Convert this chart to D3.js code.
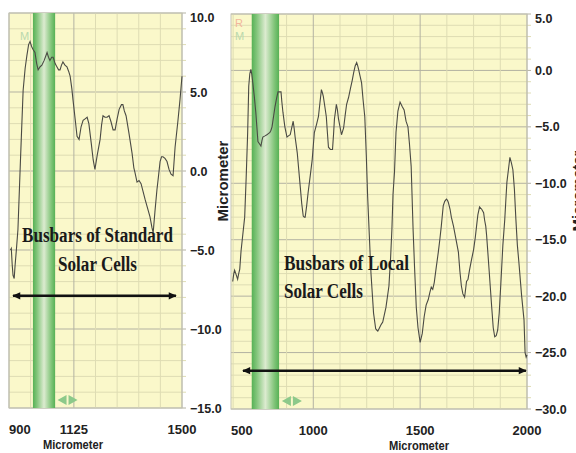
<!DOCTYPE html>
<html lang="en">
<head>
<meta charset="UTF-8">
<script src="https://d3js.org/d3.v7.min.js"></script>
<title>Busbar profiles</title>
<style>
    body { margin: 0; background: #fff; }
    svg { display: block; }
</style>
</head>
<body>
<svg id="chart" width="576" height="453"></svg>

<script>
    // standard cell profile (x in micrometer, height in micrometer)
    const stdX = [905, 908, 911, 914, 918, 921, 926, 931, 940, 949,
        956, 962, 968, 973, 978, 983, 990, 996, 1001, 1008,
        1014, 1022, 1032, 1037, 1042, 1048, 1053, 1060, 1066, 1072,
        1077, 1082, 1087, 1094, 1101, 1107, 1112, 1118, 1122, 1130,
        1136, 1143, 1150, 1157, 1164, 1171, 1177, 1185, 1192, 1198,
        1206, 1216, 1221, 1226, 1233, 1240, 1247, 1254, 1261, 1268,
        1275, 1282, 1290, 1295, 1300, 1306, 1316, 1327, 1333, 1337,
        1344, 1351, 1358, 1372, 1389, 1396, 1400, 1406, 1413, 1418,
        1424, 1429, 1434, 1441, 1448, 1455, 1462, 1469, 1476, 1486,
        1493, 1500];
    const stdY = [-5.0, -4.9, -5.9, -6.6, -6.8, -6.0, -4.9, -3.7, 0.8, 5.1,
        6.5, 7.3, 8.0, 8.2, 7.9, 7.7, 7.5, 6.8, 6.4, 6.6,
        6.7, 7.0, 7.5, 7.2, 7.0, 7.2, 7.2, 6.8, 6.6, 6.4,
        6.4, 6.7, 6.9, 6.7, 6.6, 6.3, 6.0, 5.2, 4.5, 3.2,
        2.2, 2.0, 2.8, 3.2, 3.3, 3.4, 3.0, 1.8, 0.7, 0.1,
        1.0, 2.0, 2.9, 3.5, 3.4, 3.4, 3.5, 3.1, 2.6, 2.6,
        3.3, 3.9, 4.2, 4.2, 3.8, 3.5, 2.4, 1.1, 0.2, -0.1,
        -0.7, -0.6, -0.8, -1.8, -2.9, -3.6, -3.9, -2.6, -1.2, -0.4,
        0.6, 0.9, 0.9, 0.8, 0.6, 0.1, -0.2, -0.3, 1.5, 3.2,
        4.5, 6.0];

    // local cell profile
    const localX = [623, 628, 632, 639, 646, 651, 656, 662, 679, 686,
        693, 698, 703, 708, 712, 717, 724, 731, 736, 741,
        748, 755, 760, 764, 774, 783, 790, 797, 802, 807,
        814, 821, 828, 835, 842, 849, 853, 858, 867, 877,
        884, 892, 899, 906, 911, 915, 920, 925, 932, 939,
        946, 953, 958, 962, 969, 976, 986, 995, 1000, 1005,
        1015, 1024, 1031, 1038, 1043, 1047, 1054, 1061, 1066, 1071,
        1080, 1085, 1090, 1095, 1099, 1104, 1108, 1113, 1118, 1125,
        1132, 1137, 1142, 1149, 1156, 1165, 1175, 1182, 1189, 1196,
        1203, 1208, 1212, 1219, 1226, 1233, 1241, 1248, 1254, 1259,
        1270, 1282, 1292, 1297, 1302, 1310, 1318, 1325, 1340, 1354,
        1362, 1368, 1373, 1380, 1387, 1396, 1406, 1416, 1425, 1434,
        1443, 1450, 1458, 1467, 1474, 1482, 1490, 1500, 1510, 1519,
        1528, 1538, 1545, 1552, 1559, 1566, 1575, 1585, 1592, 1599,
        1608, 1615, 1623, 1628, 1632, 1640, 1646, 1656, 1668, 1679,
        1686, 1693, 1700, 1708, 1712, 1717, 1724, 1731, 1740, 1750,
        1758, 1764, 1770, 1778, 1788, 1797, 1802, 1807, 1811, 1822,
        1835, 1842, 1849, 1856, 1863, 1870, 1877, 1887, 1896, 1901,
        1906, 1913, 1920, 1927, 1934, 1941, 1948, 1955, 1962, 1975,
        1986, 1991, 1996, 2000];
    const localY = [-18.7, -18.0, -17.7, -18.1, -18.5, -18.0, -17.6, -16.0, -13.0, -9.5,
        -5.5, -1.4, -0.3, 0.1, -0.3, -1.1, -2.3, -3.7, -5.0, -6.3,
        -6.5, -6.7, -6.2, -5.9, -5.8, -5.7, -5.6, -5.5, -5.3, -5.0,
        -4.1, -3.2, -2.5, -1.9, -1.9, -1.9, -2.8, -3.7, -5.0, -5.9,
        -5.8, -5.7, -5.1, -4.5, -5.2, -5.9, -6.6, -7.3, -8.8, -10.3,
        -11.8, -12.9, -13.0, -13.0, -12.0, -10.8, -9.3, -7.9, -6.7, -5.5,
        -4.8, -4.1, -2.9, -1.7, -2.0, -2.3, -3.2, -4.1, -5.5, -6.8,
        -7.0, -7.0, -7.0, -5.6, -4.3, -3.6, -3.0, -3.5, -4.3, -5.0,
        -5.7, -5.4, -5.1, -4.0, -3.0, -2.4, -1.5, -0.9, -0.2, 0.4,
        0.7, 0.4, 0.1, -0.5, -1.1, -2.6, -4.1, -7.5, -11.0, -13.2,
        -18.0, -21.5, -22.9, -23.0, -23.1, -22.8, -22.5, -22.3, -21.0, -19.1,
        -16.5, -14.0, -11.0, -9.0, -5.5, -3.6, -2.8, -3.2, -3.5, -4.5,
        -5.0, -6.5, -8.5, -14.1, -17.5, -21.0, -22.8, -24.1, -23.3, -21.8,
        -20.8, -20.3, -19.7, -19.2, -19.4, -18.8, -17.5, -16.1, -15.0, -13.8,
        -12.0, -11.6, -11.4, -11.5, -11.7, -12.3, -13.0, -13.8, -15.0, -16.1,
        -17.8, -19.1, -19.8, -20.1, -19.5, -18.7, -18.5, -17.7, -16.8, -15.9,
        -14.8, -13.8, -12.8, -12.1, -12.3, -12.6, -13.3, -13.8, -14.6, -17.5,
        -21.0, -22.8, -23.6, -23.5, -23.0, -21.5, -19.1, -15.5, -13.2, -11.5,
        -9.9, -8.8, -7.7, -8.2, -8.8, -10.5, -13.2, -15.5, -17.0, -20.0,
        -22.1, -25.0, -25.4, -25.2];

    // tick labels
    const stdXTicks = [900, 1125, 1500];
    const stdYTicks = [10, 5, 0, -5, -10, -15];
    const localXTicks = [500, 1000, 1500, 2000];
    const localYTicks = [5, 0, -5, -10, -15, -20, -25, -30];

    // cursor bands (micrometer)
    const stdBand = [983, 1060];
    const localBand = [712, 840];

    const svg = d3.select("#chart");
    const defs = svg.append("defs");

    const grad = defs.append("linearGradient").attr("id", "band-grad");
    [["0%", "#56b155"], ["18%", "#82c57a"], ["50%", "#dcebd0"], ["82%", "#82c57a"], ["100%", "#56b155"]]
        .forEach(([o, c]) => grad.append("stop").attr("offset", o).attr("stop-color", c));

    defs.append("marker")
        .attr("id", "head")
        .attr("viewBox", "0 -5 10 10")
        .attr("refX", 9)
        .attr("markerWidth", 9)
        .attr("markerHeight", 8)
        .attr("markerUnits", "userSpaceOnUse")
        .attr("orient", "auto-start-reverse")
        .append("path")
        .attr("d", "M0,-4.5L10,0L0,4.5Z")
        .attr("fill", "#111");

    renderPanel({
        left: 9, right: 182, top: 13, bottom: 408,
        xDomain: [900, 1500], yDomain: [-15, 10],
        xs: stdX, ys: stdY,
        xTicks: stdXTicks, yTicks: stdYTicks, xMinorStep: 75,
        band: stdBand, marks: [["M", "#b9d9ad", 11, 27]],
        yTitle: [228, 181], xTitleX: 73,
        notes: [{text: "Busbars of Standard", x: 1207, y: -4.5, len: 151, anchor: "middle"},
                {text: "Solar Cells", x: 1207, y: -6.33, len: 79, anchor: "middle"}],
        arrow: [914, 1479, -7.9],
        marker: 1103
    });

    renderPanel({
        left: 231, right: 527, top: 14, bottom: 409,
        xDomain: [615, 2000], yDomain: [-30, 5],
        xs: localX, ys: localY,
        xTicks: localXTicks, yTicks: localYTicks, xMinorStep: 125,
        band: localBand, marks: [["R", "#f2b59c", 4, 13], ["M", "#b9d9ad", 4, 26]],
        yTitle: [583, 191], xTitleX: 419,
        notes: [{text: "Busbars of Local", x: 863, y: -17.7, len: 125, anchor: "start"},
                {text: "Solar Cells", x: 863, y: -20.2, len: 79, anchor: "start"}],
        arrow: [671, 1995, -26.6],
        marker: 900
    });

    function renderPanel(p) {
        const x = d3.scaleLinear().domain(p.xDomain).range([p.left, p.right]);
        const y = d3.scaleLinear().domain(p.yDomain).range([p.bottom, p.top]);
        const g = svg.append("g");

        g.append("rect")
            .attr("x", p.left).attr("y", p.top)
            .attr("width", p.right - p.left).attr("height", p.bottom - p.top)
            .attr("fill", "#faf8ca");

        // grid: 1 unit minor, 5 unit major
        const yMinor = d3.range(p.yDomain[0], p.yDomain[1] + 0.01, 1);
        g.append("g").selectAll("line")
            .data(yMinor)
            .join("line")
            .attr("x1", p.left).attr("x2", p.right + 4)
            .attr("y1", d => y(d)).attr("y2", d => y(d))
            .attr("stroke", d => d % 5 === 0 ? "#b3b2a2" : "#dedcb3")
            .attr("stroke-width", 1);

        const xMinor = d3.range(Math.ceil(p.xDomain[0] / p.xMinorStep) * p.xMinorStep, p.xDomain[1] + 1, p.xMinorStep);
        g.append("g").selectAll("line")
            .data(xMinor)
            .join("line")
            .attr("x1", d => x(d)).attr("x2", d => x(d))
            .attr("y1", p.top).attr("y2", p.bottom)
            .attr("stroke", d => p.xTicks.includes(d) ? "#b3b2a2" : "#dedcb3");

        // border
        g.append("rect")
            .attr("x", p.left).attr("y", p.top)
            .attr("width", p.right - p.left).attr("height", p.bottom - p.top)
            .attr("fill", "none").attr("stroke", "#c4c3b6");

        // cursor band
        g.append("rect")
            .attr("x", x(p.band[0])).attr("y", p.top)
            .attr("width", x(p.band[1]) - x(p.band[0])).attr("height", p.bottom - p.top)
            .attr("fill", "url(#band-grad)");

        p.marks.forEach(([t, c, dx, dy]) => {
            g.append("text")
                .attr("x", p.left + dx).attr("y", p.top + dy)
                .attr("fill", c)
                .attr("font-family", "Liberation Sans, sans-serif")
                .attr("font-size", 11)
                .text(t);
        });

        // profile line
        const pts = p.xs.map((v, i) => [v, p.ys[i]]);
        g.append("path")
            .datum(pts)
            .attr("fill", "none")
            .attr("stroke", "#4a4a44")
            .attr("stroke-width", 1.1)
            .attr("d", d3.line().x(d => x(d[0])).y(d => y(d[1])));

        // small green cursor handle
        const mx = x(p.marker), my = p.bottom - 8;
        g.append("path")
            .attr("d", `M${mx - 1},${my - 5}L${mx - 10},${my}L${mx - 1},${my + 5}Z M${mx + 1},${my - 5}L${mx + 10},${my}L${mx + 1},${my + 5}Z`)
            .attr("fill", "#8cc98a");

        // y tick labels on the right
        g.append("g").selectAll("text")
            .data(p.yTicks)
            .join("text")
            .attr("x", p.right + 8)
            .attr("y", d => Math.max(y(d), p.top + 4))
            .attr("dy", "0.36em")
            .attr("font-family", "Liberation Sans Narrow, Arial Narrow, sans-serif")
            .attr("font-weight", "bold")
            .attr("font-size", 12.5)
            .attr("fill", "#222")
            .text(d => d3.format(".1f")(d));

        // x tick labels
        g.append("g").selectAll("text")
            .data(p.xTicks)
            .join("text")
            .attr("x", d => Math.max(x(d), p.left))
            .attr("y", p.bottom + 26)
            .attr("text-anchor", d => d <= p.xDomain[0] ? "start" : "middle")
            .attr("font-family", "Liberation Sans Narrow, Arial Narrow, sans-serif")
            .attr("font-weight", "bold")
            .attr("font-size", 13)
            .attr("fill", "#222")
            .text(d => d);

        g.append("text")
            .attr("x", p.xTitleX).attr("y", p.bottom + 41)
            .attr("text-anchor", "middle")
            .attr("font-family", "Liberation Sans, sans-serif")
            .attr("font-weight", "bold")
            .attr("font-size", 12.5)
            .attr("textLength", 60)
            .attr("lengthAdjust", "spacingAndGlyphs")
            .attr("fill", "#222")
            .text("Micrometer");

        g.append("text")
            .attr("transform", `translate(${p.yTitle[0]},${p.yTitle[1]}) rotate(-90)`)
            .attr("text-anchor", "middle")
            .attr("font-family", "Liberation Sans, sans-serif")
            .attr("font-weight", "bold")
            .attr("font-size", 15)
            .attr("fill", "#222")
            .text("Micrometer");

        // annotation, squeezed horizontally like the original bitmap
        p.notes.forEach(n => {
            const t = g.append("text")
                .attr("text-anchor", n.anchor)
                .attr("font-family", "Liberation Serif, serif")
                .attr("font-weight", "bold")
                .attr("font-size", 21)
                .attr("fill", "#1a1a1a")
                .text(n.text);
            const sx = n.len / t.node().getComputedTextLength();
            t.attr("transform", `translate(${x(n.x)},${y(n.y)}) scale(${sx},1)`);
        });

        g.append("line")
            .attr("x1", x(p.arrow[0])).attr("x2", x(p.arrow[1]))
            .attr("y1", y(p.arrow[2])).attr("y2", y(p.arrow[2]))
            .attr("stroke", "#111")
            .attr("stroke-width", 2.5)
            .attr("marker-start", "url(#head)")
            .attr("marker-end", "url(#head)");
    }
</script>
</body>
</html>
